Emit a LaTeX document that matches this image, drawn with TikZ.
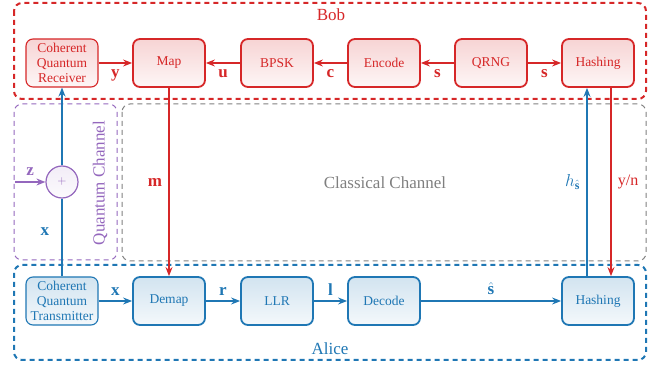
\documentclass[tikz,border=0pt]{standalone}
\usepackage{fontspec}
\setmainfont{Liberation Serif}
\usetikzlibrary{arrows.meta,calc}
\definecolor{cred}{RGB}{214,39,40}
\definecolor{cblue}{RGB}{31,119,180}
\definecolor{cpurple}{RGB}{148,103,189}
\definecolor{cgray}{RGB}{127,127,127}
\tikzset{
  rbox/.style={draw=cred, line width=1.8pt, rounded corners=7pt, minimum width=72pt, minimum height=48pt,
    top color=cred!20, bottom color=cred!4, text=cred, font=\fontsize{13.5}{15}\selectfont, align=center, inner sep=1pt},
  bbox/.style={draw=cblue, line width=1.8pt, rounded corners=7pt, minimum width=72pt, minimum height=48pt,
    top color=cblue!20, bottom color=cblue!5, text=cblue, font=\fontsize{13.5}{15}\selectfont, align=center, inner sep=1pt},
  thinbox/.style={line width=1.1pt},
  rarr/.style={draw=cred, line width=1.2pt, -{Stealth[length=9pt,width=7pt]}},
  barr/.style={draw=cblue, line width=1.2pt, -{Stealth[length=9pt,width=7pt]}},
  parr/.style={draw=cpurple, line width=1.2pt, -{Stealth[length=9pt,width=7pt]}},
  rlab/.style={text=cred, font=\fontsize{17}{18}\selectfont},
  blab/.style={text=cblue, font=\fontsize{17}{18}\selectfont},
  plab/.style={text=cpurple, font=\fontsize{17}{18}\selectfont},
  outer/.style={line width=2pt, dash pattern=on 5pt off 4pt, rounded corners=8pt},
  chan/.style={line width=1pt, dash pattern=on 5pt off 4pt, rounded corners=8pt},
  title/.style={font=\fontsize{17}{19}\selectfont}
}
\begin{document}
\begin{tikzpicture}[x=1pt,y=-1pt]
\useasboundingbox (0,0) rectangle (657,366);
% group boxes
\draw[outer, draw=cred] (14,3) rectangle (646,99);
\draw[outer, draw=cblue] (14,265) rectangle (646,360);
\draw[chan, draw=cpurple] (14,104) rectangle (117,260);
\draw[chan, draw=cgray] (122,104) rectangle (646,261);
\node[title, text=cred] (bob) at (331,15) {Bob};
\node[title, text=cblue] (alice) at (330,349) {Alice};
\node[title, text=cgray] (cc) at (385,183) {Classical Channel};
\node[title, text=cpurple, rotate=90] (qc) at (100,183) {Quantum Channel};
% Bob row
\node[rbox, thinbox] (rx) at (62,63) {Coherent\\Quantum\\Receiver};
\node[rbox] (map) at (169,63) {Map};
\node[rbox] (bpsk) at (277,63) {BPSK};
\node[rbox] (enc) at (384,63) {Encode};
\node[rbox] (qrng) at (491,63) {QRNG};
\node[rbox] (bh) at (598,63) {Hashing};
% Alice row
\node[bbox, thinbox] (tx) at (62,301) {Coherent\\Quantum\\Transmitter};
\node[bbox] (demap) at (169,301) {Demap};
\node[bbox] (llr) at (277,301) {LLR};
\node[bbox] (dec) at (384,301) {Decode};
\node[bbox] (ah) at (598,301) {Hashing};
% plus
\node[circle, draw=cpurple, line width=1.2pt, minimum size=32pt, inner sep=0pt,
  top color=cpurple!12, bottom color=cpurple!3, text=cpurple, font=\fontsize{12}{12}\selectfont] (plus) at (62,182) {$+$};
\coordinate (zin) at (15,182);
% Bob arrows
\draw[rarr] (rx) -- node[rlab, below=3pt] {$\mathbf{y}$} (map);
\draw[rarr] (bpsk) -- node[rlab, below=3pt] {$\mathbf{u}$} (map);
\draw[rarr] (enc) -- node[rlab, below=3pt] {$\mathbf{c}$} (bpsk);
\draw[rarr] (qrng) -- node[rlab, below=3pt] {$\mathbf{s}$} (enc);
\draw[rarr] (qrng) -- node[rlab, below=3pt] {$\mathbf{s}$} (bh);
% Alice arrows
\draw[barr] (tx) -- node[blab, above=2pt] {$\mathbf{x}$} (demap);
\draw[barr] (demap) -- node[blab, above=2pt] {$\mathbf{r}$} (llr);
\draw[barr] (llr) -- node[blab, above=2pt] {$\mathbf{l}$} (dec);
\draw[barr] (dec) -- node[blab, above=2pt] {$\hat{\mathbf{s}}$} (ah);
% quantum channel
\draw[draw=cblue, line width=1.2pt] (tx.north) -- node[blab, left=9pt, pos=0.57] {$\mathbf{x}$} (plus.south);
\draw[barr] (plus.north) -- (rx.south);
\draw[parr] (zin) -- node[plab, above=3pt] {$\mathbf{z}$} (plus.west);
% classical channel
\draw[rarr] (map.south) -- node[rlab, left=3pt] {$\mathbf{m}$} (demap.north);
\draw[barr] ([xshift=-11pt]ah.north) -- node[blab, left=3pt] {$h_{\hat{\mathbf{s}}}$} ([xshift=-11pt]bh.south);
\draw[rarr] ([xshift=13pt]bh.south) -- node[rlab, right=3pt, font=\fontsize{16}{17}\selectfont] {y/n} ([xshift=13pt]ah.north);
\end{tikzpicture}
\end{document}
